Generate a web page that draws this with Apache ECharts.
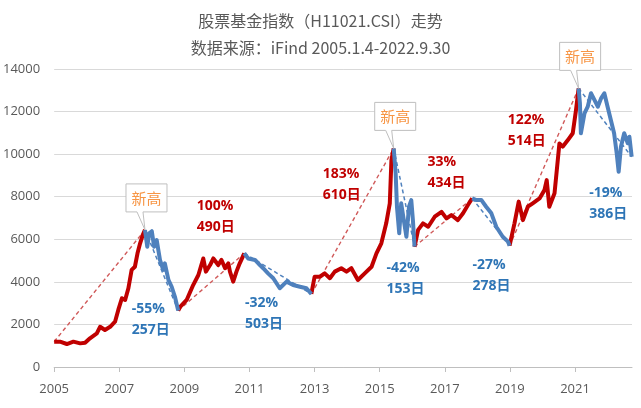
<!DOCTYPE html>
<html>
<head>
<meta charset="utf-8">
<script src="https://cdn.jsdelivr.net/npm/echarts@6/dist/echarts.min.js"></script>
<style>html,body{margin:0;padding:0;background:#fff}#c{width:641px;height:408px}</style>
</head>
<body>
<div id="c"></div>
<script>
// ---- data ----
const years = [
  2005.00,2005.18,2005.39,2005.59,2005.80,2005.95,2006.10,2006.31,2006.41,2006.56,2006.72,2006.87,2006.97,2007.08,2007.18,2007.28,2007.38,2007.48,2007.56,2007.64,2007.72,2007.79,
  2007.86,2007.92,2008.00,2008.07,2008.15,2008.25,2008.35,2008.40,2008.51,2008.61,2008.71,2008.81,
  2008.87,2009.07,2009.27,2009.43,2009.58,2009.66,2009.79,2009.89,2010.04,2010.14,2010.25,2010.35,2010.40,2010.50,2010.60,2010.70,2010.84,
  2010.96,2011.17,2011.32,2011.42,2011.57,2011.73,2011.93,2012.14,2012.34,2012.55,2012.75,2012.90,
  2013.00,2013.16,2013.31,2013.47,2013.62,2013.82,2013.98,2014.13,2014.33,2014.54,2014.75,2014.90,2015.05,2015.20,2015.31,2015.36,2015.43,
  2015.49,2015.53,2015.60,2015.66,2015.74,2015.82,2015.90,2015.97,2016.02,2016.07,
  2016.18,2016.33,2016.49,2016.69,2016.90,2017.05,2017.20,2017.40,2017.56,2017.71,2017.84,
  2017.97,2018.12,2018.27,2018.43,2018.58,2018.78,2018.94,2018.99,
  2019.14,2019.27,2019.40,2019.55,2019.70,2019.91,2020.06,2020.13,2020.21,2020.37,2020.44,2020.52,2020.62,2020.78,2020.93,2021.03,2021.11,
  2021.15,2021.18,2021.29,2021.39,2021.49,2021.60,2021.70,2021.80,2021.90,2022.00,2022.10,2022.20,2022.28,2022.34,2022.41,2022.51,2022.62,2022.67,2022.74
];
const indexValues = [
  1190,1190,1080,1190,1110,1140,1350,1580,1890,1740,1890,2130,2680,3230,3150,3700,4560,4710,5340,5810,6200,6440,
  5650,6280,6380,5650,5960,5030,4560,4870,4090,3770,3300,2650,
  2830,3150,3850,4320,5100,4480,4790,5100,4790,5030,4640,4870,4480,4010,4480,4870,5340,
  5100,5030,4790,4640,4400,4170,3700,4010,3850,3770,3700,3430,
  4240,4240,4400,4170,4480,4640,4480,4640,4090,4400,4710,5340,5810,6750,7690,9720,10270,
  9100,7530,6280,7690,6900,6120,7530,7840,6900,5650,
  6440,6750,6590,7060,7290,6980,7140,6900,7220,7610,7920,
  7840,7850,7530,7220,6590,6120,5890,5700,
  6750,7770,6900,7530,7690,7920,8310,8780,7530,8160,9250,10500,10350,10660,10980,12070,13090,
  12390,10980,11920,12230,12860,12540,12230,12620,12860,12230,11600,10980,10040,9170,10350,10980,10510,10820,9880
];
// turning points (peaks / troughs) separating rising and falling phases
const turnYears = [2005.00,2007.79,2008.81,2010.84,2012.90,2015.43,2016.07,2017.84,2018.99,2021.11,2022.74];
// phase annotations, phases 1..9
const phasePct  = ['-55%','100%','-32%','183%','-42%','33%','-27%','122%','-19%'];
const phaseDays = ['257日','490日','503日','610日','153日','434日','278日','514日','386日'];
// peaks marked as new highs
const newHighYears = [2007.79,2015.43,2021.11];
const xTicks = [2005,2007,2009,2011,2013,2015,2017,2019,2021];

// ---- layout / style config ----
const labelAnchors = [[2007.38,2231],[2009.38,7060],[2010.86,2513],[2013.25,8550],[2015.21,4180],[2016.47,9136],[2017.85,4321],[2018.93,11132],[2021.44,7680]];
const RED = '#c00000', BLUE = '#4f81bd', RED_TXT = '#c00000', BLUE_TXT = '#2e75b6';

const valAt = y => indexValues[years.findIndex(v => Math.abs(v - y) < 1e-6)];
const idxAt = y => years.findIndex(v => Math.abs(v - y) < 1e-6);

// build red / blue series with gaps
const redData = years.map(y => [y, null]);
const blueData = years.map(y => [y, null]);
const dashRed = [], dashBlue = [];
for (let k = 0; k < turnYears.length - 1; k++) {
  const a = idxAt(turnYears[k]), b = idxAt(turnYears[k + 1]);
  const target = (k % 2 === 0) ? redData : blueData;
  for (let i = a; i <= b; i++) target[i] = [years[i], indexValues[i]];
  const seg = {coords: [[years[a], indexValues[a]], [years[b], indexValues[b]]]};
  (k % 2 === 0 ? dashRed : dashBlue).push(seg);
}

const labelData = labelAnchors.map((p, i) => [p[0], p[1], i]);
const peakData = newHighYears.map(y => [y, valAt(y)]);

const chart = echarts.init(document.getElementById('c'), null, {renderer: 'canvas'});
chart.setOption({
  animation: false,
  backgroundColor: '#fff',
  title: [
    {text: '股票基金指数（H11021.CSI）走势', left: 'center', top: 8,
     textStyle: {fontSize: 16, fontWeight: 'normal', color: '#595959', fontFamily: '"Noto Sans CJK SC", sans-serif'}},
    {text: '数据来源：iFind 2005.1.4-2022.9.30', left: 'center', top: 35,
     textStyle: {fontSize: 16, fontWeight: 'normal', color: '#595959', fontFamily: '"Noto Sans CJK SC", sans-serif'}}
  ],
  grid: {left: 54, right: 9, top: 69, bottom: 41, containLabel: false},
  xAxis: {
    type: 'value', min: 2005, max: 2022.75, interval: 2,
    axisLine: {show: true, lineStyle: {color: '#bfbfbf', width: 1}},
    axisTick: {show: true, length: 5, lineStyle: {color: '#bfbfbf'}, customValues: xTicks},
    axisLabel: {customValues: xTicks, color: '#595959', fontSize: 13, margin: 16,
                fontFamily: '"Open Sans", sans-serif', formatter: v => String(v)},
    splitLine: {show: false}
  },
  yAxis: {
    type: 'value', min: 0, max: 14000, interval: 2000,
    axisLine: {show: false}, axisTick: {show: false},
    axisLabel: {color: '#595959', fontSize: 13, margin: 14, fontFamily: '"Open Sans", sans-serif',
                formatter: v => String(v)},
    splitLine: {lineStyle: {color: '#d9d9d9', width: 1}}
  },
  series: [
    {type: 'lines', coordinateSystem: 'cartesian2d', z: 1, data: dashRed,
     lineStyle: {color: '#d05a5a', width: 1.4, type: [4, 3], opacity: 1}},
    {type: 'lines', coordinateSystem: 'cartesian2d', z: 1, data: dashBlue,
     lineStyle: {color: '#4f81bd', width: 1.5, type: [4, 3], opacity: 1}},
    {type: 'line', data: redData, showSymbol: false, connectNulls: false, z: 3,
     lineStyle: {color: RED, width: 4, join: 'round'}, itemStyle: {color: RED}},
    {type: 'line', data: blueData, showSymbol: false, connectNulls: false, z: 3,
     lineStyle: {color: BLUE, width: 4, join: 'round'}, itemStyle: {color: BLUE}},
    {type: 'custom', z: 5, data: labelData,
     renderItem: (params, api) => {
       const p = api.coord([api.value(0), api.value(1)]);
       const i = api.value(2);
       return {type: 'text', x: p[0], y: p[1], style: {
         text: phasePct[i] + '\n' + phaseDays[i],
         fill: (i % 2 === 0) ? BLUE_TXT : RED_TXT,
         fontSize: 14, fontWeight: 'bold', lineHeight: 21,
         fontFamily: '"Open Sans", "Noto Sans CJK SC", sans-serif',
         align: 'left', verticalAlign: 'middle'}};
     }},
    {type: 'custom', z: 6, data: peakData,
     renderItem: (params, api) => {
       const p = api.coord([api.value(0), api.value(1)]);
       const L = p[0] - 19, R = p[0] + 22, B = p[1] - 18, T = B - 28;
       return {type: 'group', children: [
         {type: 'polygon', shape: {points: [[L, T], [R, T], [R, B], [p[0] - 2, B], [p[0], p[1]], [p[0] - 8, B], [L, B]]},
          style: {fill: '#fff', stroke: '#bfbfbf', lineWidth: 1}},
         {type: 'text', x: (L + R) / 2, y: (T + B) / 2, style: {
           text: '新高', fill: '#f79646', fontSize: 15,
           fontFamily: '"Noto Sans CJK SC", sans-serif', align: 'center', verticalAlign: 'middle'}}
       ]};
     }}
  ]
});
</script>
</body>
</html>
